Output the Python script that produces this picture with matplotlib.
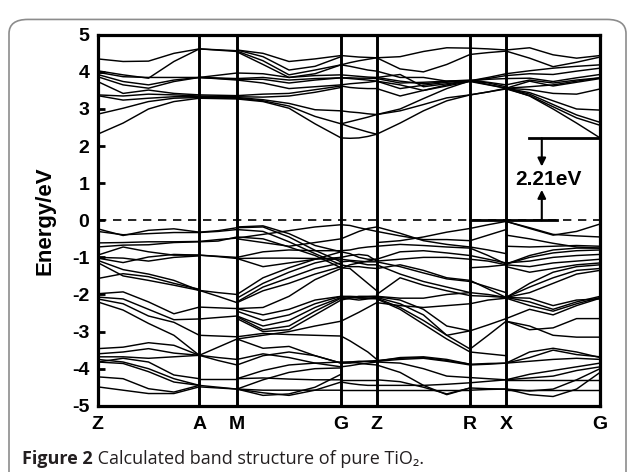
import matplotlib
matplotlib.use("Agg")
import matplotlib.pyplot as plt
from matplotlib.patches import FancyBboxPatch
import numpy as np

plt.rcParams['axes.unicode_minus'] = False

# high-symmetry points along the k-path (fraction of path length)
k_labels = ['Z', 'A', 'M', 'G', 'Z', 'R', 'X', 'G']
k_pos = [0.0, 0.2023, 0.2773, 0.4844, 0.5555, 0.7413, 0.8130, 1.0]

gap = 2.21

# band energies (eV) read at evenly spaced points inside each segment
cond_ZA = [
    [4.35, 4.28, 4.29, 4.50, 4.62], [4.03, 3.92, 3.83, 4.28, 4.62],
    [3.99, 3.87, 3.85, 3.85, 3.85], [3.93, 3.74, 3.65, 3.78, 3.85],
    [3.87, 3.65, 3.56, 3.74, 3.85], [3.74, 3.42, 3.51, 3.42, 3.38],
    [3.38, 3.35, 3.40, 3.38, 3.35], [3.36, 3.24, 3.29, 3.33, 3.33],
    [2.86, 3.02, 3.20, 3.29, 3.31], [2.32, 2.62, 3.00, 3.20, 3.29],
]
cond_AM = [
    [4.62, 4.57], [4.62, 4.55], [3.85, 3.97], [3.85, 3.82], [3.85, 3.80],
    [3.85, 3.78], [3.38, 3.36], [3.35, 3.33], [3.33, 3.31], [3.31, 3.29],
    [3.29, 3.27],
]
cond_MG = [
    [4.59, 4.50, 4.28, 4.35, 4.44], [4.59, 4.41, 4.05, 4.15, 4.41],
    [4.56, 4.30, 3.92, 4.05, 4.19], [4.54, 4.20, 3.85, 3.95, 4.19],
    [3.97, 3.95, 3.85, 3.90, 3.92], [3.82, 3.85, 3.78, 3.82, 3.84],
    [3.80, 3.80, 3.70, 3.78, 3.84], [3.78, 3.70, 3.55, 3.60, 3.65],
    [3.36, 3.40, 3.42, 3.52, 3.62], [3.33, 3.32, 3.35, 3.45, 3.58],
    [3.31, 3.25, 3.15, 2.98, 2.95], [3.29, 3.22, 3.08, 2.80, 2.60],
    [3.27, 3.20, 3.02, 2.60, 2.22],
]
cond_GZ = [
    [4.44, 4.42, 4.40, 4.39, 4.38], [4.19, 4.25, 4.30, 4.34, 4.38],
    [4.19, 4.15, 4.10, 4.05, 4.02], [3.92, 3.90, 3.88, 3.86, 3.85],
    [3.84, 3.84, 3.83, 3.83, 3.82], [3.84, 3.82, 3.80, 3.78, 3.75],
    [3.65, 3.68, 3.70, 3.72, 3.75], [3.62, 3.58, 3.56, 3.55, 3.55],
    [2.95, 2.92, 2.90, 2.87, 2.85], [2.60, 2.66, 2.72, 2.78, 2.85],
    [2.60, 2.52, 2.45, 2.38, 2.32], [2.22, 2.21, 2.22, 2.26, 2.32],
]
cond_ZR = [
    [4.38, 4.41, 4.55, 4.65, 4.64], [4.38, 4.08, 4.00, 4.20, 4.47],
    [4.02, 3.85, 3.85, 3.75, 3.76], [3.85, 3.93, 3.60, 3.68, 3.76],
    [3.85, 3.75, 3.68, 3.74, 3.76], [3.82, 3.70, 3.72, 3.75, 3.78],
    [3.75, 3.55, 3.64, 3.72, 3.76], [3.75, 3.65, 3.50, 3.62, 3.74],
    [3.55, 3.35, 3.50, 3.65, 3.76], [2.85, 3.00, 3.28, 3.55, 3.76],
    [2.85, 2.95, 3.12, 3.30, 3.38], [2.32, 2.62, 2.95, 3.22, 3.38],
]
cond_RX = [
    [4.64, 4.62, 4.59], [4.47, 4.52, 4.56], [3.76, 3.85, 3.95],
    [3.76, 3.82, 3.90], [3.76, 3.80, 3.82], [3.78, 3.72, 3.65],
    [3.76, 3.66, 3.56], [3.74, 3.65, 3.56], [3.76, 3.70, 3.60],
    [3.38, 3.46, 3.56], [3.38, 3.46, 3.54],
]
cond_XG = [
    [4.59, 4.65, 4.46, 4.37, 4.44], [4.56, 4.37, 4.14, 4.26, 4.40],
    [3.95, 4.03, 4.10, 4.15, 4.19], [3.90, 3.95, 3.93, 4.02, 4.10],
    [3.82, 3.83, 3.74, 3.84, 3.93], [3.65, 3.78, 3.70, 3.78, 3.84],
    [3.56, 3.75, 3.62, 3.72, 3.82], [3.56, 3.52, 3.42, 3.40, 3.54],
    [3.56, 3.44, 3.22, 3.00, 2.97], [3.56, 3.40, 3.12, 2.84, 2.64],
    [3.54, 3.36, 3.06, 2.76, 2.56], [3.56, 3.35, 3.00, 2.62, 2.22],
    [3.56, 3.60, 3.65, 3.75, 3.84],
]

val_ZA = [
    [-0.23, -0.41, -0.27, -0.23, -0.32], [-0.30, -0.39, -0.36, -0.33, -0.33],
    [-0.61, -0.60, -0.58, -0.58, -0.57], [-0.72, -0.67, -0.66, -0.60, -0.58],
    [-0.94, -0.72, -0.85, -0.94, -0.94], [-1.02, -1.14, -0.99, -0.92, -0.94],
    [-1.00, -1.02, -1.10, -1.00, -0.96], [-1.08, -1.33, -1.45, -1.62, -1.89],
    [-1.14, -1.50, -1.62, -1.75, -1.89], [-1.57, -1.44, -1.52, -1.70, -1.86],
    [-1.98, -1.93, -2.20, -2.52, -2.34], [-2.07, -2.12, -2.40, -2.68, -2.66],
    [-2.12, -2.25, -2.58, -2.75, -3.10], [-2.20, -2.42, -2.78, -3.10, -3.64],
    [-3.46, -3.42, -3.30, -3.37, -3.64], [-3.60, -3.55, -3.46, -3.58, -3.64],
    [-3.68, -3.68, -3.72, -3.68, -3.64], [-3.75, -3.82, -4.00, -4.27, -4.45],
    [-3.82, -3.86, -4.08, -4.36, -4.45], [-4.22, -4.27, -4.54, -4.63, -4.45],
    [-4.49, -4.58, -4.67, -4.67, -4.49], [-3.82, -3.72, -3.82, -4.17, -4.27],
]
val_AM = [
    [-0.32, -0.28, -0.20], [-0.33, -0.30, -0.25], [-0.57, -0.52, -0.48],
    [-0.58, -0.56, -0.45], [-0.94, -0.98, -1.03], [-0.94, -0.97, -1.00],
    [-1.89, -2.05, -2.22], [-1.89, -1.95, -2.00], [-2.34, -2.36, -2.38],
    [-2.66, -2.62, -2.58], [-3.10, -3.12, -3.14], [-3.64, -3.42, -3.20],
    [-3.64, -3.78, -3.90], [-4.27, -4.27, -4.27], [-4.45, -4.50, -4.55],
    [-4.49, -4.52, -4.55], [-3.64, -3.70, -3.75],
]
val_MG = [
    [-0.18, -0.15, -0.36, -0.68, -0.85], [-0.20, -0.18, -0.45, -0.81, -1.12],
    [-0.25, -0.30, -0.58, -0.90, -1.20], [-0.45, -0.50, -0.72, -0.95, -1.28],
    [-0.48, -0.38, -0.28, -0.18, -0.12], [-0.50, -0.60, -0.70, -0.60, -0.50],
    [-1.00, -0.85, -0.80, -0.82, -0.82], [-1.03, -1.02, -1.02, -1.03, -1.05],
    [-1.03, -1.25, -1.15, -1.05, -1.00], [-2.00, -1.55, -1.28, -1.05, -0.85],
    [-2.10, -1.70, -1.40, -1.15, -1.00], [-2.20, -1.80, -1.55, -1.30, -1.15],
    [-2.22, -1.90, -1.70, -1.45, -1.25], [-2.38, -2.35, -2.05, -1.60, -1.30],
    [-2.38, -2.55, -2.40, -2.15, -2.05], [-2.45, -2.70, -2.55, -2.25, -2.05],
    [-2.58, -2.85, -2.70, -2.35, -2.08], [-2.60, -2.95, -2.85, -2.45, -2.10],
    [-2.65, -3.00, -2.95, -2.55, -2.15], [-3.14, -3.05, -3.08, -3.10, -3.12],
    [-3.20, -3.10, -3.00, -2.85, -2.72], [-3.20, -3.45, -3.40, -3.65, -3.85],
    [-3.90, -3.65, -3.55, -3.65, -3.85], [-3.75, -3.60, -3.70, -3.85, -3.95],
    [-4.27, -4.05, -3.90, -3.85, -3.82], [-4.27, -4.25, -4.28, -4.30, -4.30],
    [-4.55, -4.30, -4.10, -4.00, -3.98], [-4.55, -4.65, -4.72, -4.58, -4.36],
    [-4.55, -4.72, -4.68, -4.50, -4.15], [-4.55, -4.58, -4.58, -4.58, -4.58],
]
val_GZ = [
    [-0.12, -0.14, -0.20, -0.25, -0.30], [-0.50, -0.40, -0.30, -0.22, -0.18],
    [-0.82, -0.80, -0.75, -0.72, -0.70], [-0.85, -0.90, -1.00, -1.05, -1.05],
    [-1.00, -0.95, -0.92, -0.95, -1.10], [-1.05, -1.08, -1.10, -1.12, -1.12],
    [-1.12, -1.10, -1.15, -1.20, -1.20], [-1.20, -1.25, -1.25, -1.28, -1.30],
    [-1.28, -1.30, -1.50, -1.70, -1.90], [-1.30, -1.20, -1.15, -1.10, -1.05],
    [-2.05, -2.05, -2.06, -2.06, -2.05], [-2.05, -2.08, -2.10, -2.10, -2.08],
    [-2.08, -2.06, -2.08, -2.10, -2.12], [-2.10, -2.12, -2.15, -2.12, -2.10],
    [-2.72, -2.60, -2.48, -2.35, -2.22], [-3.12, -3.25, -3.40, -3.55, -3.75],
    [-3.85, -3.82, -3.80, -3.80, -3.80], [-3.85, -3.85, -3.82, -3.80, -3.78],
    [-3.95, -3.92, -3.88, -3.85, -3.82], [-3.82, -3.82, -3.85, -3.88, -3.90],
    [-4.30, -4.30, -4.30, -4.30, -4.30], [-4.36, -4.40, -4.43, -4.45, -4.45],
    [-4.58, -4.58, -4.58, -4.58, -4.58], [-2.15, -2.10, -2.05, -2.05, -2.05],
]
val_ZR = [
    [-0.18, -0.35, -0.55, -0.65, -0.72], [-0.60, -0.55, -0.45, -0.32, -0.22],
    [-0.30, -0.42, -0.52, -0.52, -0.55], [-0.70, -0.65, -0.68, -0.72, -0.75],
    [-1.05, -0.85, -0.82, -0.88, -0.95], [-1.10, -1.05, -1.00, -1.00, -1.05],
    [-1.12, -1.25, -1.42, -1.58, -1.65], [-1.20, -1.45, -1.65, -1.80, -1.95],
    [-1.30, -1.20, -1.35, -1.55, -1.62], [-2.00, -1.55, -1.75, -1.90, -2.03],
    [-2.05, -2.10, -2.10, -2.00, -1.95], [-2.06, -2.15, -2.40, -2.85, -2.98],
    [-2.08, -2.25, -2.55, -3.10, -2.98], [-2.10, -2.35, -2.70, -3.10, -3.47],
    [-2.12, -2.40, -2.80, -3.20, -3.55], [-2.22, -2.30, -2.35, -2.30, -2.25],
    [-3.80, -3.70, -3.68, -3.75, -3.88], [-3.80, -3.75, -3.72, -3.80, -3.90],
    [-3.78, -3.72, -3.70, -3.78, -3.88], [-3.82, -3.85, -4.00, -4.20, -4.24],
    [-3.90, -4.10, -4.45, -4.70, -4.52], [-4.30, -4.35, -4.50, -4.68, -4.52],
    [-4.45, -4.45, -4.45, -4.42, -4.38], [-4.58, -4.58, -4.58, -4.58, -4.58],
]
val_RX = [
    [-0.22, -0.12, -0.03], [-0.55, -0.40, -0.25], [-0.72, -0.80, -0.90],
    [-0.75, -0.95, -1.18], [-0.95, -1.05, -1.15], [-1.05, -1.10, -1.20],
    [-1.28, -1.25, -1.20], [-1.62, -1.85, -2.08], [-1.65, -1.80, -1.95],
    [-1.95, -2.00, -2.08], [-2.03, -2.05, -2.08], [-2.98, -2.82, -2.65],
    [-3.47, -3.10, -2.72], [-3.55, -3.60, -3.65], [-3.88, -3.86, -3.85],
    [-3.90, -3.88, -3.85], [-4.24, -4.27, -4.30], [-4.38, -4.34, -4.30],
    [-4.52, -4.54, -4.55], [-4.58, -4.56, -4.55], [-2.25, -2.15, -2.10],
]
val_XG = [
    [-0.03, -0.22, -0.40, -0.30, -0.10], [-0.03, -0.20, -0.38, -0.42, -0.45],
    [-0.40, -0.50, -0.62, -0.72, -0.75], [-0.70, -0.72, -0.70, -0.68, -0.70],
    [-1.18, -0.95, -0.80, -0.75, -0.75], [-1.18, -1.00, -0.88, -0.82, -0.80],
    [-1.15, -1.10, -1.00, -0.95, -0.92], [-1.20, -1.25, -1.15, -1.10, -1.05],
    [-1.25, -1.40, -1.30, -1.20, -1.15], [-2.08, -1.70, -1.40, -1.25, -1.20],
    [-2.08, -1.80, -1.55, -1.35, -1.30], [-2.08, -1.95, -1.70, -1.45, -1.35],
    [-2.08, -2.20, -2.40, -2.20, -2.05], [-2.10, -2.30, -2.45, -2.25, -2.08],
    [-2.08, -2.10, -2.30, -2.15, -2.12], [-2.65, -2.40, -2.55, -2.30, -2.10],
    [-2.72, -2.95, -2.90, -2.65, -2.65], [-2.72, -2.85, -3.10, -3.15, -3.15],
    [-3.85, -3.55, -3.45, -3.55, -3.70], [-3.85, -3.70, -3.50, -3.62, -3.68],
    [-3.85, -3.80, -3.75, -3.72, -3.75], [-4.30, -4.15, -4.05, -3.95, -3.85],
    [-4.30, -4.25, -4.20, -4.05, -3.95], [-4.55, -4.60, -4.55, -4.30, -4.00],
    [-4.55, -4.70, -4.75, -4.55, -4.10], [-4.30, -4.30, -4.30, -4.30, -4.30],
    [-4.58, -4.58, -4.58, -4.58, -4.58],
]

segments = [cond_ZA + val_ZA, cond_AM + val_AM, cond_MG + val_MG,
            cond_GZ + val_GZ, cond_ZR + val_ZR, cond_RX + val_RX,
            cond_XG + val_XG]

fig = plt.figure(figsize=(6.29, 4.72), dpi=100)

# rounded grey frame around the figure
frame = FancyBboxPatch((9 / 629, -0.05), 617 / 629, 1.03 - 10 / 472,
                       boxstyle="round,pad=0,rounding_size=0.03",
                       transform=fig.transFigure, fc='none', ec='#8c8c8c',
                       lw=1.2, zorder=-5)
fig.patches.append(frame)

ax = fig.add_axes([0.1553, 0.1403, 0.7987, 0.786])
for i, bands in enumerate(segments):
    for b in bands:
        xs = np.linspace(k_pos[i], k_pos[i + 1], len(b))
        ax.plot(xs, b, color='black', lw=1.05)

for k in k_pos[1:-1]:
    ax.axvline(k, color='black', lw=2.1)
ax.axhline(0, color='black', lw=1.2, ls=(0, (5, 4)))

ax.set_xlim(0, 1)
ax.set_ylim(-5, 5)
for s in ax.spines.values():
    s.set_linewidth(2.3)

bold = dict(family=['Liberation Sans', 'DejaVu Sans'], weight='bold')
ax.set_xticks(k_pos)
ax.set_xticklabels(k_labels, fontsize=14, **bold)
ax.tick_params(axis='x', length=0, pad=7)
ax.set_yticks(range(-5, 6))
ax.set_yticklabels([str(v) for v in range(-5, 6)], fontsize=14, **bold)
ax.tick_params(axis='y', direction='in', length=5, width=2, pad=6)
ax.set_ylabel('Energy/eV', fontsize=16, labelpad=12, **bold)

# band gap annotation
x_arrow = 0.884
ax.plot([k_pos[5], 0.914], [0, 0], color='black', lw=2.0)
ax.plot([0.859, 1.0], [gap, gap], color='black', lw=2.0)
ax.annotate('', xy=(x_arrow, 1.45), xytext=(x_arrow, gap),
            arrowprops=dict(arrowstyle='-|>', color='black', lw=1.5,
                            mutation_scale=12, shrinkA=0, shrinkB=0))
ax.annotate('', xy=(x_arrow, 0.82), xytext=(x_arrow, 0),
            arrowprops=dict(arrowstyle='-|>', color='black', lw=1.5,
                            mutation_scale=12, shrinkA=0, shrinkB=0))
ax.text(0.898, 1.1, '%.2feV' % gap, ha='center', va='center',
        fontsize=15, **bold)

# caption: bold figure number followed by the regular text
cap_font = ['Open Sans', 'Noto Sans', 'DejaVu Sans']
t1 = fig.text(22 / 629, 1 - 464 / 472, 'Figure 2', fontsize=13,
              family=cap_font, weight='bold', color='#231f20', va='baseline')
ax.annotate(' Calculated band structure of pure TiO\u2082.', xy=(1, 0),
            xycoords=t1, va='bottom', fontsize=13, family=cap_font,
            color='#231f20', annotation_clip=False)

fig.savefig('out.png', dpi=100)
